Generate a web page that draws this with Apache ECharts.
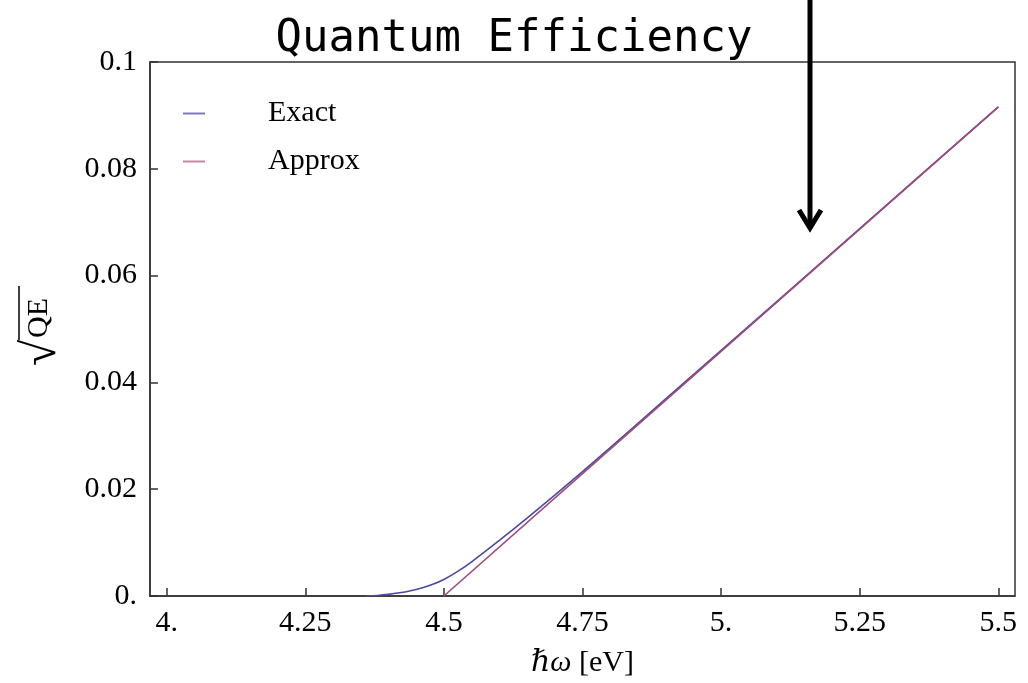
<!DOCTYPE html>
<html>
<head>
<meta charset="utf-8">
<script src="https://cdn.jsdelivr.net/npm/echarts@6/dist/echarts.min.js"></script>
<style>html,body{margin:0;padding:0;background:#fff;}#c{width:1028px;height:683px;}</style>
</head>
<body>
<div id="c"></div>
<script>
const titleText = 'Quantum Efficiency';
const seriesNames = ['Exact', 'Approx'];
const xTickValues = [4, 4.25, 4.5, 4.75, 5, 5.25, 5.5];
const xTickLabels = ['4.', '4.25', '4.5', '4.75', '5.', '5.25', '5.5'];
const yTickValues = [0, 0.02, 0.04, 0.06, 0.08, 0.1];
const yTickLabels = ['0.', '0.02', '0.04', '0.06', '0.08', '0.1'];
const exactX = [4.0, 4.36, 4.38, 4.40, 4.42, 4.44, 4.46, 4.48, 4.50, 4.525, 4.55, 4.60, 4.65, 4.70, 4.75, 4.80, 4.90, 5.00, 5.25, 5.50];
const exactY = [0, 0, 0.0001, 0.0003, 0.0006, 0.0010, 0.0015, 0.0022, 0.0031, 0.0046, 0.0064, 0.0104, 0.0146, 0.0189, 0.0233, 0.0278, 0.0369, 0.0460, 0.0688, 0.0916];
const approxX = [4.5, 4.75, 5.0, 5.25, 5.5];
const approxY = [0, 0.0229, 0.0458, 0.0687, 0.0916];

const serif = '"Liberation Serif", "DejaVu Serif", serif';
const chart = echarts.init(document.getElementById('c'), null, {renderer: 'canvas'});
const exactData = exactX.map((x, i) => [x, exactY[i]]).filter(p => p[0] >= 4.36);
const approxData = approxX.map((x, i) => [x, approxY[i]]);

chart.setOption({
  animation: false,
  backgroundColor: '#ffffff',
  title: {
    text: titleText,
    left: 'center',
    top: 13,
    textStyle: {fontFamily: '"DejaVu Sans Mono", monospace', fontSize: 44, fontWeight: 'normal', color: '#000'}
  },
  legend: {
    orient: 'vertical',
    left: 178,
    top: 93,
    itemWidth: 22,
    itemHeight: 2,
    itemGap: 17,
    icon: 'rect',
    data: seriesNames,
    textStyle: {fontFamily: serif, fontSize: 30, color: '#000', lineHeight: 31, padding: [0, 0, 0, 58]}
  },
  grid: {left: 150, right: 13, top: 62, bottom: 87, show: true, borderColor: '#333', borderWidth: 1.5, backgroundColor: 'transparent'},
  xAxis: {
    type: 'value',
    min: 3.97,
    max: 5.53,
    splitLine: {show: false},
    axisLine: {show: true, lineStyle: {color: '#333', width: 1.5}},
    axisTick: {show: true, inside: true, length: 8, customValues: xTickValues, lineStyle: {color: '#333', width: 1.5}},
    axisLabel: {
      customValues: xTickValues,
      margin: 12,
      fontFamily: serif, fontSize: 30, color: '#000',
      formatter: v => xTickLabels[Math.round((v - 4) / 0.25)]
    },
    name: '{i|ℏω} [eV]',
    nameLocation: 'middle',
    nameGap: 52,
    nameTextStyle: {fontFamily: serif, fontSize: 30, color: '#000', rich: {i: {fontFamily: serif, fontSize: 30, fontStyle: 'italic', color: '#000'}}}
  },
  yAxis: {
    type: 'value',
    min: 0,
    max: 0.1,
    interval: 0.02,
    splitLine: {show: false},
    axisLine: {show: true, lineStyle: {color: '#333', width: 1.5}},
    axisTick: {show: true, inside: true, length: 8, lineStyle: {color: '#333', width: 1.5}},
    axisLabel: {
      margin: 13,
      fontFamily: serif, fontSize: 30, color: '#000',
      formatter: v => yTickLabels[Math.round(v / 0.02)]
    }
  },
  series: [
    {name: seriesNames[0], type: 'line', data: exactData, showSymbol: false, smooth: 0.2, lineStyle: {color: '#4a4aa2', width: 1.6}, itemStyle: {color: '#7a7ac0'}},
    {name: seriesNames[1], type: 'line', data: approxData, showSymbol: false, lineStyle: {color: '#a04a7c', width: 1.6}, itemStyle: {color: '#c088a8'}}
  ],
  graphic: [
    {
      type: 'group',
      x: 42, y: 326,
      rotation: Math.PI / 2,
      children: [
        {type: 'text', x: -40, y: 0, style: {text: '√', fontFamily: serif, fontSize: 48, fill: '#000', verticalAlign: 'middle', align: 'left'}},
        {type: 'text', x: -12, y: 12, style: {text: 'QE', fontFamily: serif, fontSize: 30, fill: '#000', verticalAlign: 'bottom', align: 'left'}},
        {type: 'line', shape: {x1: -14, y1: -23, x2: 40, y2: -23}, style: {stroke: '#000', lineWidth: 1.5}}
      ]
    },
    {type: 'line', shape: {x1: 810, y1: 0, x2: 810, y2: 226}, style: {stroke: '#000', lineWidth: 5}, z: 100},
    {type: 'polyline', shape: {points: [[799, 210], [810, 228], [821, 210]]}, style: {stroke: '#000', lineWidth: 5, fill: null, lineJoin: 'miter'}, z: 100}
  ]
});
</script>
</body>
</html>
